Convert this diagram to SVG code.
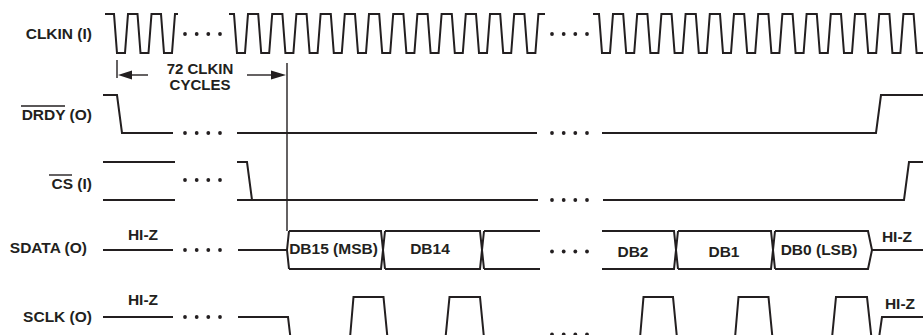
<svg xmlns="http://www.w3.org/2000/svg" width="923" height="335" viewBox="0 0 923 335">
<style>
.sig{fill:none;stroke:#231f20;stroke-width:2;stroke-linejoin:miter;stroke-linecap:butt}
.thin{fill:none;stroke:#231f20;stroke-width:1.4}
.dot{fill:#231f20}
.lbl{font-family:"Liberation Sans",Arial,Helvetica,sans-serif;font-weight:bold;font-size:15.5px;fill:#231f20}
.sm{font-size:15px}
.end{text-anchor:end}
.mid{text-anchor:middle}
</style>
<defs>
<g id="dots"><circle cx="0" cy="0" r="1.9"/><circle cx="11.7" cy="0" r="1.9"/><circle cx="23.3" cy="0" r="1.9"/><circle cx="35" cy="0" r="1.9"/></g>
</defs>
<rect width="923" height="335" fill="#ffffff"/>

<g id="clkin">
<text class="lbl end" x="92" y="38.5">CLKIN (I)</text>
<path class="sig" d="M105,14 L114,14 L117,53 L125,53 L128,14 L137.5,14 L140.5,53 L148.5,53 L151.5,14 L161,14 L164,53 L172,53 L175,14 L178,14"/>
<path class="sig" d="M229,14 L234,14 L237,53 L245,53 L248,14 L258.2,14 L261.2,53 L269.2,53 L272.2,14 L282.4,14 L285.4,53 L293.4,53 L296.4,14 L306.6,14 L309.6,53 L317.6,53 L320.6,14 L330.8,14 L333.8,53 L341.8,53 L344.8,14 L355,14 L358,53 L366,53 L369,14 L379.2,14 L382.2,53 L390.2,53 L393.2,14 L403.4,14 L406.4,53 L414.4,53 L417.4,14 L427.6,14 L430.6,53 L438.6,53 L441.6,14 L451.8,14 L454.8,53 L462.8,53 L465.8,14 L476,14 L479,53 L487,53 L490,14 L500.2,14 L503.2,53 L511.2,53 L514.2,14 L524.4,14 L527.4,53 L535.4,53 L538.4,14 L545,14"/>
<path class="sig" d="M593,14 L599,14 L602,53 L610,53 L613,14 L623.2,14 L626.2,53 L634.2,53 L637.2,14 L647.4,14 L650.4,53 L658.4,53 L661.4,14 L671.6,14 L674.6,53 L682.6,53 L685.6,14 L695.8,14 L698.8,53 L706.8,53 L709.8,14 L720,14 L723,53 L731,53 L734,14 L744.2,14 L747.2,53 L755.2,53 L758.2,14 L768.4,14 L771.4,53 L779.4,53 L782.4,14 L792.6,14 L795.6,53 L803.6,53 L806.6,14 L816.8,14 L819.8,53 L827.8,53 L830.8,14 L841,14 L844,53 L852,53 L855,14 L865.2,14 L868.2,53 L876.2,53 L879.2,14 L889.4,14 L892.4,53 L900.4,53 L903.4,14 L913.6,14 L916.6,53 L925,53"/>
<use href="#dots" class="dot" x="185" y="34"/>
<use href="#dots" class="dot" x="552" y="34"/>
</g>

<g id="cycles">
<text class="lbl sm mid" x="200" y="73.5">72 CLKIN</text>
<text class="lbl sm mid" x="200" y="89.5">CYCLES</text>
</g>

<g id="drdy">
<text class="lbl end" x="92" y="120">DRDY (O)</text>
<line class="thin" x1="21" y1="106" x2="65" y2="106"/>
<path class="sig" d="M103,95 L117,95 L122,133 L173,133"/>
<path class="sig" d="M237,133 L537,133"/>
<path class="sig" d="M602,133 L876,133 L881,95 L923,95"/>
<use href="#dots" class="dot" x="185" y="133"/>
<use href="#dots" class="dot" x="552" y="133"/>
</g>

<g id="cs">
<text class="lbl end" x="92" y="188.5">CS (I)</text>
<line class="thin" x1="49" y1="175" x2="72" y2="175"/>
<path class="sig" d="M103,162 L175,162 M103,200 L175,200"/>
<path class="sig" d="M237,162 L247,162 L252,200 L538,200 M237,200 L252,200"/>
<path class="sig" d="M603,200 L904,200 L909,162 L923,162"/>
<use href="#dots" class="dot" x="185" y="180"/>
<use href="#dots" class="dot" x="552" y="200"/>
</g>

<g id="sdata">
<text class="lbl end" x="87" y="252.5">SDATA (O)</text>
<text class="lbl mid" x="143" y="240">HI-Z</text>
<path class="sig" d="M103,250 L173,250"/>
<path class="sig" d="M238,250 L287,250"/>
<use href="#dots" class="dot" x="185" y="250"/>
<path class="sig" d="M289,231 L287,250 L289,269 M289,231 L381,231 L383,250 L381,269 L289,269"/>
<path class="sig" d="M385,231 L383,250 L385,269 M385,231 L480,231 L482,250 L480,269 L385,269"/>
<path class="sig" d="M484,231 L482,250 L484,269 M484,231 L540,231 M484,269 L540,269"/>
<use href="#dots" class="dot" x="552" y="251.5"/>
<path class="sig" d="M602,231 L674,231 L676,250 L674,269 L602,269"/>
<path class="sig" d="M678,231 L676,250 L678,269 M678,231 L771,231 L773,250 L771,269 L678,269"/>
<path class="sig" d="M775,231 L773,250 L775,269 M775,231 L868,231 L872,250 L868,269 L775,269"/>
<path class="sig" d="M872,250 L923,250"/>
<text class="lbl mid" x="333.5" y="254">DB15 (MSB)</text>
<text class="lbl mid" x="430" y="253.5">DB14</text>
<text class="lbl mid" x="633" y="256.5">DB2</text>
<text class="lbl mid" x="724" y="256.5">DB1</text>
<text class="lbl mid" x="819" y="255">DB0 (LSB)</text>
<text class="lbl mid" x="897" y="241.5">HI-Z</text>
</g>

<g id="sclk">
<text class="lbl end" x="92" y="321.5">SCLK (O)</text>
<text class="lbl mid" x="143" y="305">HI-Z</text>
<path class="sig" d="M103,317 L173,317"/>
<use href="#dots" class="dot" x="185" y="317"/>
<path class="sig" d="M238,317 L288,317 L290.5,338 L350,338 L353.5,297 L383.5,297 L387.5,338 L445.5,338 L449.5,297 L480,297 L484,338 L537,338"/>
<use href="#dots" class="dot" x="552" y="334.5"/>
<path class="sig" d="M602,338 L640,338 L643.5,297 L673,297 L677,338 L735,338 L738.5,297 L768.5,297 L772.5,338 L832,338 L836,297 L867,297 L871.5,338 L879,338 L882,317 L923,317"/>
<text class="lbl mid" x="900" y="308.5">HI-Z</text>
</g>

<g id="connectors">
<line class="thin" x1="117" y1="60" x2="117" y2="78"/>
<line class="thin" x1="131" y1="75" x2="148" y2="75"/>
<polygon class="dot" points="118,75 132,70.5 132,79.5"/>
<line class="thin" x1="247" y1="75" x2="272" y2="75"/>
<polygon class="dot" points="286,75 271,70.5 271,79.5"/>
<line class="thin" x1="287" y1="63" x2="287" y2="231"/>
</g>
</svg>
